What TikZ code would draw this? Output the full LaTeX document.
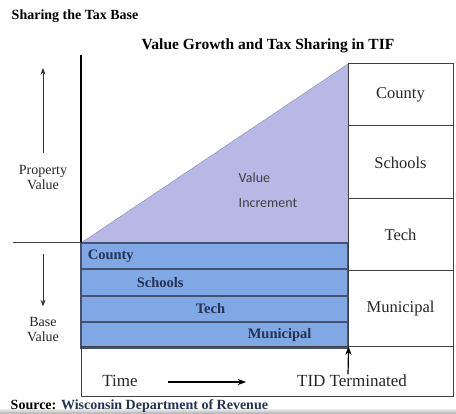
\documentclass[tikz,border=0pt]{standalone}
\usepackage{fontspec}
\setmainfont{Liberation Serif}
\newfontfamily\calibri{Carlito}
\usetikzlibrary{positioning,arrows.meta}
\definecolor{incr}{RGB}{184,184,230}
\definecolor{band}{RGB}{128,168,228}
\definecolor{navy}{RGB}{36,50,84}
\tikzset{share/.style = {draw=black!75, line width=1pt, minimum width=105pt, inner sep=0pt,
    font=\fontsize{16.5}{18}\selectfont, text=black!85},
  slice/.style = {fill=band, draw=navy!85, line width=1.2pt, minimum width=267pt, minimum height=26pt, inner sep=0pt},
  slicetext/.style = {font=\bfseries\fontsize{14.5}{16}\selectfont, text=navy, inner sep=0pt},
  side/.style = {align=center, font=\fontsize{14}{15}\selectfont, text=black!85, inner sep=0pt}}

\begin{document}
\begin{tikzpicture}[x=1pt, y=-1pt, >=Stealth, thick]
      \useasboundingbox[fill=white] (0,0) rectangle (456,414);
      \shade[top color=gray!25, bottom color=gray!65] (0,410) rectangle (456,414);
      \node[anchor=west, font=\bfseries\fontsize{14}{16}\selectfont] (head) at (8,16) {Sharing the Tax Base};
      \node[font=\bfseries\fontsize{15.5}{17}\selectfont] (title) at (268,46) {Value Growth and Tax Sharing in TIF};

      % value increment above the base
      \filldraw[fill=incr, draw=incr!75!black, thin] (81,243) -- (348,64) -- (348,243) -- cycle;
      \node[font=\calibri\fontsize{14}{25}\selectfont, text=black!75, align=left] (incr) at (268,190) {Value\\Increment};

      % base value split between the taxing bodies
      \node[slice] (bcounty) at (214.5,256) {};
      \node[slice] (bschools) at (214.5,282.5) {};
      \node[slice] (btech) at (214.5,309) {};
      \node[slice] (bmuni) at (214.5,335) {};
      \node[slicetext, right=7pt of bcounty.west] (lcounty) {County};
      \node[slicetext, right=56pt of bschools.west] (lschools) {Schools};
      \node[slicetext, right=115pt of btech.west] (ltech) {Tech};
      \node[slicetext, right=167pt of bmuni.west] (lmuni) {Municipal};

      % shares after the district ends
      \node[share, minimum height=62pt] (county) at (400.5,95) {County};
      \node[share, minimum height=73pt] (schools) at (400.5,162.5) {Schools};
      \node[share, minimum height=72pt] (tech) at (400.5,235) {Tech};
      \node[share, minimum height=76pt] (muni) at (400.5,309) {Municipal};

      % axes
      \draw[line width=1.6pt] (81,55) -- (81,243);
      \draw[black!75, line width=1pt] (13,243) -- (81,243);
      \node[side] (propv) at (43,178) {Property\\Value};
      \coordinate (ptop) at (43,68);
      \draw[->, black!80] ([yshift=12pt]propv.north) -- (ptop);
      \node[side] (basev) at (43,330) {Base\\Value};
      \coordinate (btop) at (43,254);
      \draw[->, black!80] (btop) -- ([yshift=11pt]basev.north);

      % time line
      \node[draw=black!75, line width=1pt, minimum width=372pt, minimum height=50pt, inner sep=0pt] (span) at (267,372) {};
      \node[font=\fontsize{17}{18}\selectfont, text=black!85] (time) at (120,381) {Time};
      \node[font=\fontsize{17}{18}\selectfont, text=black!85] (tid) at (352,381) {TID Terminated};
      \coordinate (tstart) at (168,382);
      \coordinate (tend) at (246,382);
      \draw[->, line width=1.2pt] (tstart) -- (tend);
      \draw[->, line width=1.2pt] ([xshift=-4pt, yshift=-3pt]tid.north) -- (span.north -| bmuni.east);

      \node[anchor=west, font=\bfseries\fontsize{14}{15}\selectfont] (src) at (7,406)
        {Source: \textcolor{navy}{Wisconsin Department of Revenue}};
    \end{tikzpicture}
\end{document}
